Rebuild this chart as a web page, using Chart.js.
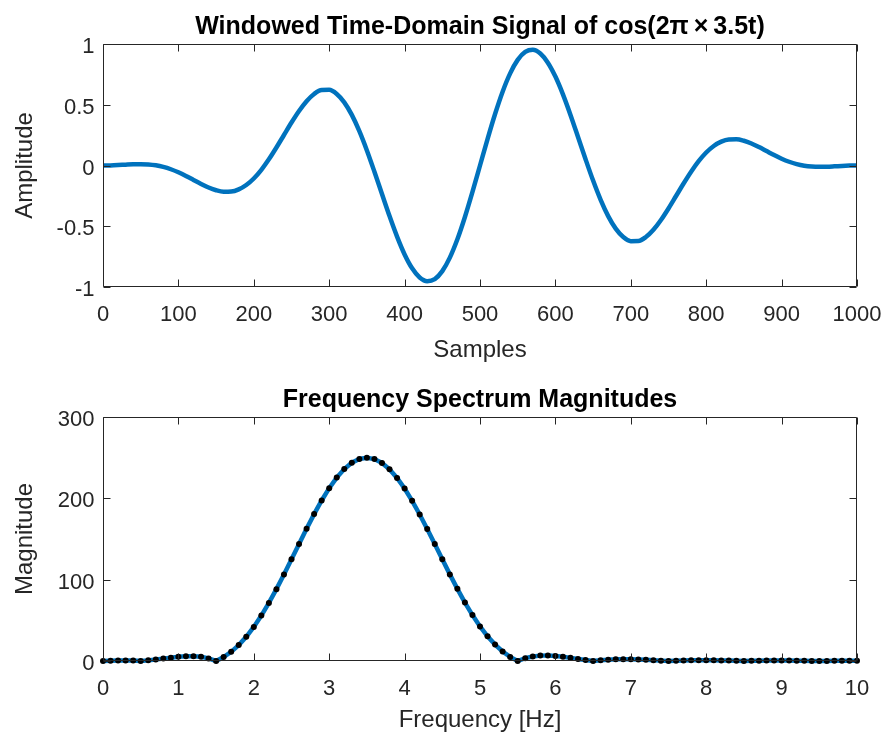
<!DOCTYPE html>
<html>
<head>
<meta charset="utf-8">
<script src="https://cdn.jsdelivr.net/npm/chart.js@4.4.0/dist/chart.umd.min.js"></script>
<style>
  html, body { margin: 0; padding: 0; background: #fff; }
  #wrap { position: relative; width: 886px; height: 736px; }
  canvas { position: absolute; left: 0; }
</style>
</head>
<body>
<div id="wrap">
  <canvas id="timeChart" width="886" height="368" style="top:0"></canvas>
  <canvas id="specChart" width="886" height="368" style="top:368px"></canvas>
</div>
<script>
const samples = [0, 10, 20, 30, 40, 50, 60, 70, 80, 90, 100, 110, 120, 130, 140, 150, 160, 170, 180, 190,
  200, 210, 220, 230, 240, 250, 260, 270, 280, 290, 300, 310, 320, 330, 340, 350, 360, 370, 380, 390,
  400, 410, 420, 430, 440, 450, 460, 470, 480, 490, 500, 510, 520, 530, 540, 550, 560, 570, 580, 590,
  600, 610, 620, 630, 640, 650, 660, 670, 680, 690, 700, 710, 720, 730, 740, 750, 760, 770, 780, 790,
  800, 810, 820, 830, 840, 850, 860, 870, 880, 890, 900, 910, 920, 930, 940, 950, 960, 970, 980, 990, 1000];
const amplitude = [0, 0.001, 0.0036, 0.007, 0.010, 0.0111, 0.0087, 0.0015, -0.0116, -0.0309,
  -0.0561, -0.0861, -0.1188, -0.1515, -0.1809, -0.2036, -0.2158, -0.2143, -0.1965, -0.1608,
  -0.1068, -0.0354, 0.0509, 0.1481, 0.2511, 0.3536, 0.4487, 0.5294, 0.5890, 0.6216,
  0.6225, 0.5888, 0.5197, 0.4164, 0.2827, 0.1242, -0.0514, -0.2350, -0.4165, -0.5854,
  -0.7318, -0.8463, -0.9215, -0.9519, -0.9346, -0.8692, -0.7584, -0.6077, -0.4241, -0.2179,
  0, 0.2179, 0.4241, 0.6077, 0.7584, 0.8692, 0.9346, 0.9519, 0.9215, 0.8463,
  0.7318, 0.5854, 0.4165, 0.2350, 0.0514, -0.1242, -0.2827, -0.4164, -0.5197, -0.5888,
  -0.6225, -0.6216, -0.5890, -0.5294, -0.4487, -0.3536, -0.2511, -0.1481, -0.0509, 0.0354,
  0.1068, 0.1608, 0.1965, 0.2143, 0.2158, 0.2036, 0.1809, 0.1515, 0.1188, 0.0861,
  0.0561, 0.0309, 0.0116, -0.0015, -0.0087, -0.0111, -0.0100, -0.0070, -0.0036, -0.0010, 0];

// Spektrum (0.1 Hz Schritte)
const freq = [0, 0.1, 0.2, 0.3, 0.4, 0.5, 0.6, 0.7, 0.8, 0.9, 1, 1.1, 1.2, 1.3, 1.4, 1.5, 1.6, 1.7, 1.8, 1.9,
  2, 2.1, 2.2, 2.3, 2.4, 2.5, 2.6, 2.7, 2.8, 2.9, 3, 3.1, 3.2, 3.3, 3.4, 3.5, 3.6, 3.7, 3.8, 3.9,
  4, 4.1, 4.2, 4.3, 4.4, 4.5, 4.6, 4.7, 4.8, 4.9, 5, 5.1, 5.2, 5.3, 5.4, 5.5, 5.6, 5.7, 5.8, 5.9,
  6, 6.1, 6.2, 6.3, 6.4, 6.5, 6.6, 6.7, 6.8, 6.9, 7, 7.1, 7.2, 7.3, 7.4, 7.5, 7.6, 7.7, 7.8, 7.9,
  8, 8.1, 8.2, 8.3, 8.4, 8.5, 8.6, 8.7, 8.8, 8.9, 9, 9.1, 9.2, 9.3, 9.4, 9.5, 9.6, 9.7, 9.8, 9.9, 10];
const magnitude = [0, 0.35, 0.60, 0.67, 0.48, 0, 0.77, 1.77, 2.94, 4.12,
  5.14, 5.81, 5.88, 5.10, 3.22, 0, 4.77, 11.26, 19.59, 29.82,
  41.95, 55.87, 71.41, 88.34, 106.33, 125.00, 143.92, 162.61, 180.59, 197.39,
  212.51, 225.52, 236.04, 243.77, 248.47, 250.00, 248.32, 243.49, 235.65, 225.06,
  212.02, 196.91, 180.19, 162.31, 143.76, 125.00, 106.50, 88.68, 71.88, 56.44,
  42.57, 30.44, 20.14, 11.67, 4.99, 0, 3.47, 5.60, 6.61, 6.72,
  6.16, 5.14, 3.86, 2.49, 1.17, 0, 0.95, 1.63, 2.03, 2.18,
  2.09, 1.82, 1.42, 0.95, 0.46, 0, 0.40, 0.70, 0.90, 0.99,
  0.97, 0.87, 0.69, 0.47, 0.23, 0, 0.21, 0.37, 0.48, 0.54,
  0.54, 0.48, 0.39, 0.27, 0.14, 0, 0.12, 0.22, 0.29, 0.33, 0.33];

// Achsenbeschriftung
const timeXTicks = [0, 100, 200, 300, 400, 500, 600, 700, 800, 900, 1000];
const timeYTicks = [-1, -0.5, 0, 0.5, 1];
const timeYLabels = ['-1', '-0.5', '0', '0.5', '1'];
const specXTicks = [0, 1, 2, 3, 4, 5, 6, 7, 8, 9, 10];
const specYTicks = [0, 100, 200, 300];

const AX = '#262626';
const BLUE = '#0072BD';

function txt(ctx, s, x, y, align, rotated) {
    ctx.save();
    ctx.translate(x, y);
    if (rotated) ctx.rotate(-Math.PI / 2);
    ctx.textAlign = align;
    ctx.textBaseline = 'alphabetic';
    ctx.fillText(s, 0, 0);
    ctx.restore();
}

// Rahmen, Ticks nach innen, Texte (MATLAB-Stil)
const matlabAxes = {
    id: 'matlabAxes',
    afterDatasetsDraw(chart, args, o) {
        const { ctx, chartArea: a, scales: { x, y } } = chart;
        const L = Math.round(a.left) + 0.5, R = Math.round(a.right) - 0.5;
        const T = Math.round(a.top) + 0.5, B = Math.round(a.bottom) - 0.5;
        const tl = 7;
        ctx.save();
        ctx.strokeStyle = AX;
        ctx.lineWidth = 1;
        ctx.beginPath();
        ctx.rect(L, T, R - L, B - T);
        o.xTicks.forEach(v => {
            const px = Math.round(x.getPixelForValue(v)) + 0.5;
            ctx.moveTo(px, B); ctx.lineTo(px, B - tl);
            ctx.moveTo(px, T); ctx.lineTo(px, T + tl);
        });
        o.yTicks.forEach(v => {
            const py = Math.round(y.getPixelForValue(v)) + 0.5;
            ctx.moveTo(L, py); ctx.lineTo(L + tl, py);
            ctx.moveTo(R, py); ctx.lineTo(R - tl, py);
        });
        ctx.stroke();

        ctx.fillStyle = AX;
        ctx.font = '22px "Liberation Sans", Arial, sans-serif';
        o.xTicks.forEach((v, i) => {
            txt(ctx, o.xLabels[i], x.getPixelForValue(v), B + 34, 'center');
        });
        o.yTicks.forEach((v, i) => {
            txt(ctx, o.yLabels[i], L - 9, y.getPixelForValue(v) + 9, 'right');
        });

        ctx.font = '24px "Liberation Sans", Arial, sans-serif';
        const cx = (a.left + a.right) / 2;
        txt(ctx, o.xTitle, cx, B + o.xTitleGap, 'center');
        txt(ctx, o.yTitle, 32, (a.top + a.bottom) / 2, 'center', true);

        ctx.fillStyle = '#000';
        ctx.font = 'bold 25px "Liberation Sans", Arial, sans-serif';
        txt(ctx, o.title, cx, T - 11, 'center');
        ctx.restore();
    }
};

const common = {
    responsive: false,
    animation: false,
    devicePixelRatio: 1,
    plugins: { legend: { display: false }, tooltip: { enabled: false } }
};

new Chart(document.getElementById('timeChart'), {
    type: 'line',
    data: {
        datasets: [{
            data: samples.map((s, i) => ({ x: s, y: amplitude[i] })),
            borderColor: BLUE,
            borderWidth: 4.5,
            pointRadius: 0,
            cubicInterpolationMode: 'monotone',
            fill: false
        }]
    },
    options: {
        ...common,
        layout: { padding: { left: 103, right: 29, top: 44, bottom: 81 } },
        scales: {
            x: { type: 'linear', min: 0, max: 1000, display: false },
            y: { type: 'linear', min: -1, max: 1, display: false }
        },
        plugins: {
            ...common.plugins,
            matlabAxes: {
                xTicks: timeXTicks, xLabels: timeXTicks.map(String),
                yTicks: timeYTicks, yLabels: timeYLabels,
                title: 'Windowed Time-Domain Signal of cos(2\u03C0\u2009\u00D7\u20093.5t)',
                xTitle: 'Samples', yTitle: 'Amplitude', xTitleGap: 70
            }
        }
    },
    plugins: [matlabAxes]
});

new Chart(document.getElementById('specChart'), {
    type: 'line',
    data: {
        datasets: [{
            data: freq.map((f, i) => ({ x: f, y: magnitude[i] })),
            borderColor: BLUE,
            borderWidth: 4.5,
            pointRadius: 3,
            pointBackgroundColor: '#000',
            pointBorderWidth: 0,
            tension: 0,
            clip: false,
            fill: false
        }]
    },
    options: {
        ...common,
        layout: { padding: { left: 103, right: 29, top: 49, bottom: 75 } },
        scales: {
            x: { type: 'linear', min: 0, max: 10, display: false },
            y: { type: 'linear', min: 0, max: 300, display: false }
        },
        plugins: {
            ...common.plugins,
            matlabAxes: {
                xTicks: specXTicks, xLabels: specXTicks.map(String),
                yTicks: specYTicks, yLabels: specYTicks.map(String),
                title: 'Frequency Spectrum Magnitudes',
                xTitle: 'Frequency [Hz]', yTitle: 'Magnitude', xTitleGap: 66
            }
        }
    },
    plugins: [matlabAxes]
});
</script>
</body>
</html>
